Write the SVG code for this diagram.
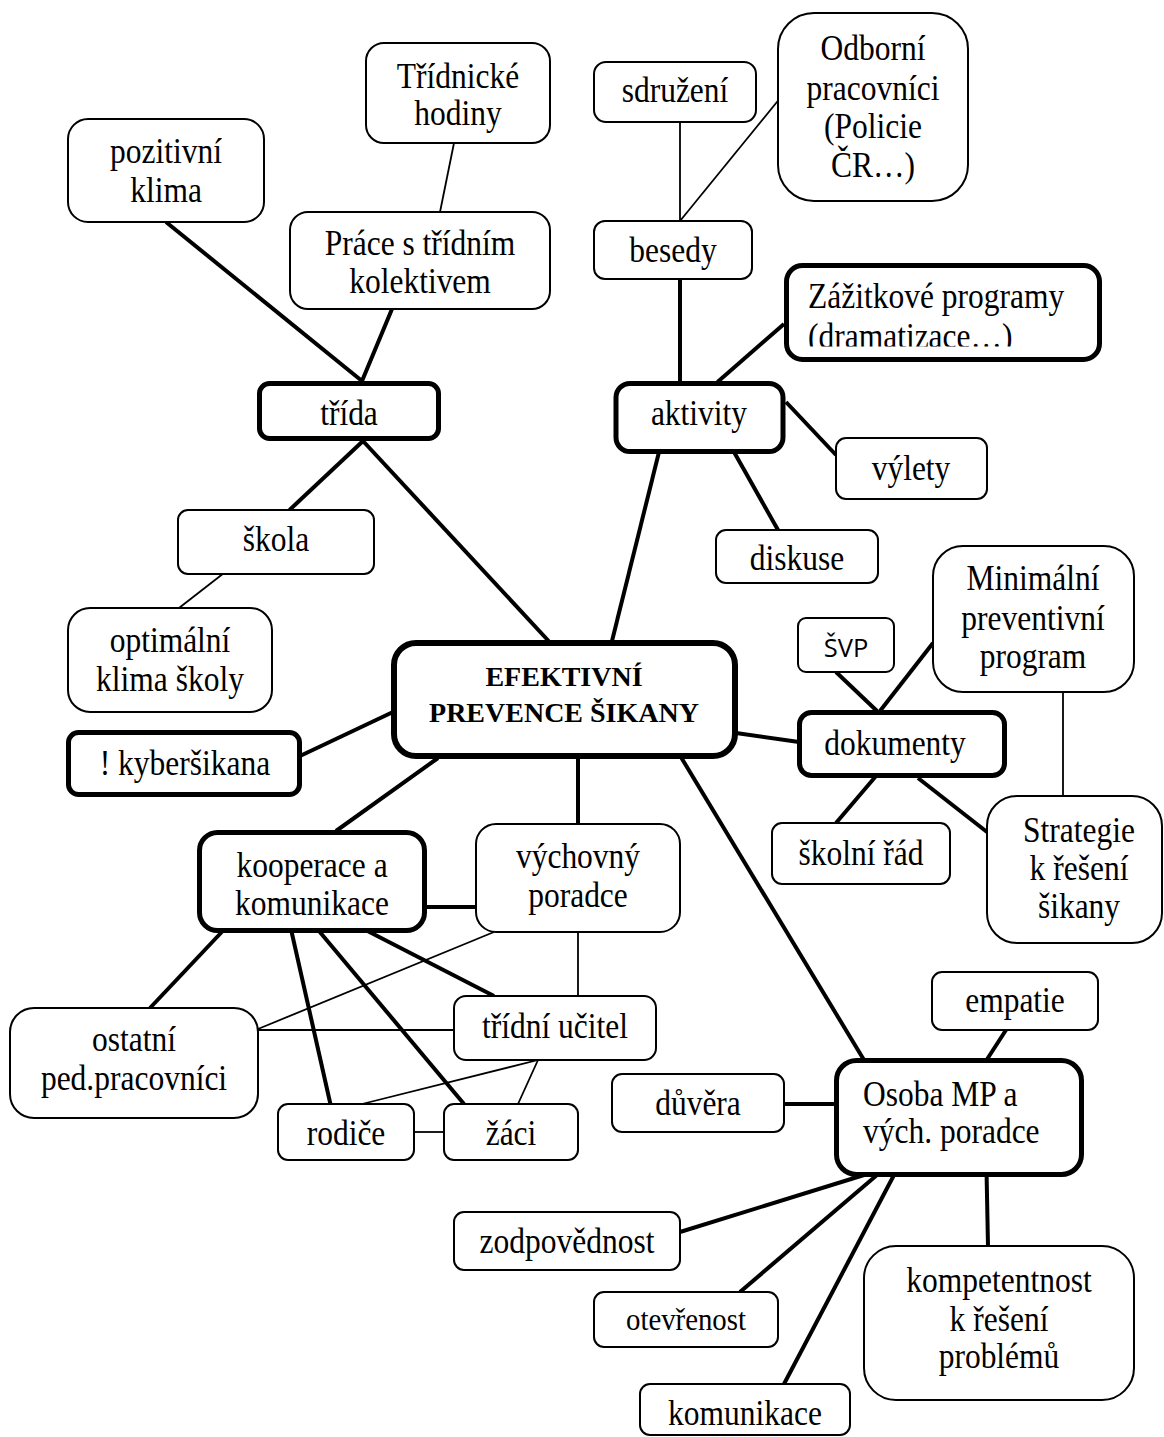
<svg xmlns="http://www.w3.org/2000/svg" width="1164" height="1437" viewBox="0 0 1164 1437">
<style>
.n rect{fill:#fff;stroke:#000;stroke-width:2}
.k rect{stroke-width:5}
.m rect{stroke-width:6}
text{font-family:"Liberation Serif","Times New Roman",serif;font-size:35px;fill:#000;text-anchor:middle}
.l{text-anchor:start}
.b{font-weight:bold;font-size:28px}
.s{font-family:"Open Sans","Liberation Sans",sans-serif;font-size:25.5px}
.sm{font-size:32px}
#connectors line{stroke:#000;stroke-linecap:butt}
#connectors .t{stroke-width:4}
#connectors .h{stroke-width:1.8}
</style>
<defs>
<clipPath id="clipZ"><rect x="-40" y="260" width="400" height="86.5"/></clipPath>
<clipPath id="clipK"><rect x="-200" y="825" width="400" height="91"/></clipPath>
</defs>
<rect x="0" y="0" width="1164" height="1437" fill="#fff"/>
<g id="connectors">
<line class="t" x1="166" y1="222" x2="362" y2="381"/>
<line class="t" x1="392" y1="309" x2="362" y2="381"/>
<line class="t" x1="363" y1="441" x2="289.5" y2="510"/>
<line class="t" x1="363" y1="441" x2="548.6" y2="641"/>
<line class="t" x1="680" y1="279" x2="680" y2="382"/>
<line class="t" x1="784" y1="324" x2="717.5" y2="382"/>
<line class="t" x1="786" y1="402" x2="836" y2="455"/>
<line class="t" x1="659" y1="452" x2="612" y2="641"/>
<line class="t" x1="734" y1="452" x2="778" y2="530"/>
<line class="t" x1="836" y1="672" x2="877" y2="711"/>
<line class="t" x1="933" y1="643" x2="880" y2="711"/>
<line class="t" x1="736" y1="733" x2="799" y2="742"/>
<line class="t" x1="876" y1="776" x2="836" y2="823"/>
<line class="t" x1="918" y1="778" x2="987" y2="832"/>
<line class="t" x1="681.5" y1="758" x2="864" y2="1060"/>
<line class="t" x1="300" y1="756" x2="393" y2="712"/>
<line class="t" x1="438" y1="758" x2="336" y2="831"/>
<line class="t" x1="578" y1="758" x2="578" y2="824"/>
<line class="t" x1="425" y1="907" x2="476" y2="907"/>
<line class="t" x1="367.5" y1="931" x2="494" y2="996"/>
<line class="t" x1="222.7" y1="931" x2="150" y2="1008"/>
<line class="t" x1="291.4" y1="931" x2="330.4" y2="1104"/>
<line class="t" x1="319" y1="931" x2="464" y2="1104"/>
<line class="t" x1="1006" y1="1030" x2="986.6" y2="1060"/>
<line class="t" x1="784" y1="1104" x2="836" y2="1104"/>
<line class="t" x1="864" y1="1175" x2="680" y2="1232"/>
<line class="t" x1="877" y1="1175" x2="740" y2="1292"/>
<line class="t" x1="894" y1="1175" x2="784" y2="1384"/>
<line class="t" x1="986.6" y1="1175" x2="988" y2="1246"/>
<line class="h" x1="454" y1="143" x2="440" y2="212"/>
<line class="h" x1="680" y1="122" x2="680" y2="221"/>
<line class="h" x1="781" y1="97" x2="680" y2="221"/>
<line class="h" x1="1063" y1="692" x2="1063" y2="796"/>
<line class="h" x1="222.7" y1="574" x2="179" y2="608"/>
<line class="h" x1="494" y1="932" x2="258" y2="1029"/>
<line class="h" x1="578" y1="932" x2="578" y2="996"/>
<line class="h" x1="258" y1="1030" x2="454" y2="1030"/>
<line class="h" x1="414" y1="1132" x2="444" y2="1132"/>
<line class="h" x1="538" y1="1060" x2="362" y2="1104"/>
<line class="h" x1="538" y1="1060" x2="518" y2="1104"/>
</g>
<g id="pozitivni" class="n"><rect x="68" y="119" width="196" height="103" rx="20"/><text transform="translate(166 0) scale(.9 1)" y="163">pozitivní</text><text transform="translate(166 0) scale(.9 1)" y="202">klima</text></g>
<g id="tridnicke" class="n"><rect x="366" y="43" width="184" height="100" rx="18"/><text transform="translate(458 0) scale(.9 1)" y="88">Třídnické</text><text transform="translate(458 0) scale(.9 1)" y="125">hodiny</text></g>
<g id="prace" class="n"><rect x="290" y="212" width="260" height="97" rx="18"/><text transform="translate(420 0) scale(.9 1)" y="255">Práce s třídním</text><text transform="translate(420 0) scale(.9 1)" y="293">kolektivem</text></g>
<g id="trida" class="n k"><rect x="259.5" y="383.5" width="179" height="55" rx="10"/><text transform="translate(349 0) scale(.9 1)" y="425">třída</text></g>
<g id="sdruzeni" class="n"><rect x="594" y="62" width="162" height="60" rx="12"/><text transform="translate(675 0) scale(.9 1)" y="102">sdružení</text></g>
<g id="odborni" class="n"><rect x="778" y="13" width="190" height="188" rx="36"/><text transform="translate(873 0) scale(.9 1)" y="60">Odborní</text><text transform="translate(873 0) scale(.9 1)" y="100">pracovníci</text><text transform="translate(873 0) scale(.9 1)" y="138">(Policie</text><text transform="translate(873 0) scale(.9 1)" y="177">ČR…)</text></g>
<g id="besedy" class="n"><rect x="594" y="221" width="158" height="58" rx="11"/><text transform="translate(673 0) scale(.9 1)" y="262">besedy</text></g>
<g id="zazitkove" class="n k"><rect x="786.5" y="265.5" width="313" height="94" rx="16"/><text class="l" transform="translate(808 0) scale(.9 1)" y="308">Zážitkové programy</text><text class="l" transform="translate(808 0) scale(.9 1)" y="348" clip-path="url(#clipZ)">(dramatizace…)</text></g>
<g id="aktivity" class="n k"><rect x="616" y="383.5" width="167" height="68" rx="14"/><text transform="translate(699 0) scale(.9 1)" y="425">aktivity</text></g>
<g id="vylety" class="n"><rect x="836" y="438" width="151" height="61" rx="10"/><text transform="translate(911 0) scale(.9 1)" y="480">výlety</text></g>
<g id="diskuse" class="n"><rect x="716" y="530" width="162" height="53" rx="10"/><text transform="translate(797 0) scale(.9 1)" y="570">diskuse</text></g>
<g id="svp" class="n"><rect x="798" y="618" width="96" height="54" rx="8"/><text class="s" x="846" y="657">ŠVP</text></g>
<g id="minimalni" class="n"><rect x="933" y="546" width="201" height="146" rx="30"/><text transform="translate(1033 0) scale(.9 1)" y="590">Minimální</text><text transform="translate(1033 0) scale(.9 1)" y="630">preventivní</text><text transform="translate(1033 0) scale(.9 1)" y="668">program</text></g>
<g id="dokumenty" class="n k"><rect x="799.5" y="712.5" width="205" height="63" rx="12"/><text transform="translate(895 0) scale(.9 1)" y="755">dokumenty</text></g>
<g id="skolni-rad" class="n"><rect x="772" y="823" width="178" height="61" rx="10"/><text transform="translate(861 0) scale(.9 1)" y="865">školní řád</text></g>
<g id="strategie" class="n"><rect x="987" y="796" width="175" height="147" rx="30"/><text transform="translate(1079 0) scale(.9 1)" y="842">Strategie</text><text transform="translate(1079 0) scale(.9 1)" y="880">k řešení</text><text transform="translate(1079 0) scale(.9 1)" y="918">šikany</text></g>
<g id="skola" class="n"><rect x="178" y="510" width="196" height="64" rx="10"/><text transform="translate(276 0) scale(.9 1)" y="551">škola</text></g>
<g id="optimalni" class="n"><rect x="68" y="608" width="204" height="104" rx="22"/><text transform="translate(170 0) scale(.9 1)" y="652">optimální</text><text transform="translate(170 0) scale(.9 1)" y="691">klima školy</text></g>
<g id="kybersikana" class="n k"><rect x="68.5" y="732.5" width="231" height="62" rx="10"/><text transform="translate(185 0) scale(.9 1)" y="775">! kyberšikana</text></g>
<g id="center" class="n m"><rect x="394" y="643" width="341" height="113" rx="22"/><text class="b" x="564" y="686">EFEKTIVNÍ</text><text class="b" x="564" y="722">PREVENCE ŠIKANY</text></g>
<g id="kooperace" class="n k"><rect x="199.5" y="832.5" width="225" height="98" rx="18"/><text transform="translate(312 0) scale(.9 1)" y="877">kooperace a</text><text transform="translate(312 0) scale(.9 1)" y="915" clip-path="url(#clipK)">komunikace</text></g>
<g id="vychovny" class="n"><rect x="476" y="824" width="204" height="108" rx="20"/><text transform="translate(578 0) scale(.9 1)" y="868">výchovný</text><text transform="translate(578 0) scale(.9 1)" y="907">poradce</text></g>
<g id="ostatni" class="n"><rect x="10" y="1008" width="248" height="110" rx="24"/><text transform="translate(134 0) scale(.9 1)" y="1051">ostatní</text><text transform="translate(134 0) scale(.9 1)" y="1090">ped.pracovníci</text></g>
<g id="tridni-ucitel" class="n"><rect x="454" y="996" width="202" height="64" rx="12"/><text transform="translate(555 0) scale(.9 1)" y="1038">třídní učitel</text></g>
<g id="rodice" class="n"><rect x="278" y="1104" width="136" height="56" rx="10"/><text transform="translate(346 0) scale(.9 1)" y="1145">rodiče</text></g>
<g id="zaci" class="n"><rect x="444" y="1104" width="134" height="56" rx="10"/><text transform="translate(511 0) scale(.9 1)" y="1145">žáci</text></g>
<g id="zodpovednost" class="n"><rect x="454" y="1212" width="226" height="58" rx="10"/><text transform="translate(567 0) scale(.9 1)" y="1253">zodpovědnost</text></g>
<g id="empatie" class="n"><rect x="932" y="972" width="166" height="58" rx="10"/><text transform="translate(1015 0) scale(.9 1)" y="1012">empatie</text></g>
<g id="osoba" class="n k"><rect x="836.5" y="1060.5" width="245" height="114" rx="20"/><text class="l" transform="translate(863 0) scale(.9 1)" y="1106">Osoba MP a</text><text class="l" transform="translate(863 0) scale(.9 1)" y="1143">vých. poradce</text></g>
<g id="duvera" class="n"><rect x="612" y="1074" width="172" height="58" rx="10"/><text transform="translate(698 0) scale(.9 1)" y="1115">důvěra</text></g>
<g id="otevrenost" class="n"><rect x="594" y="1292" width="184" height="55" rx="10"/><text class="sm" transform="translate(686 0) scale(.9 1)" y="1330">otevřenost</text></g>
<g id="kompetentnost" class="n"><rect x="864" y="1246" width="270" height="154" rx="32"/><text transform="translate(999 0) scale(.9 1)" y="1292">kompetentnost</text><text transform="translate(999 0) scale(.9 1)" y="1331">k řešení</text><text transform="translate(999 0) scale(.9 1)" y="1368">problémů</text></g>
<g id="komunikace" class="n"><rect x="640" y="1384" width="210" height="51" rx="10"/><text transform="translate(745 0) scale(.9 1)" y="1425">komunikace</text></g>
</svg>
